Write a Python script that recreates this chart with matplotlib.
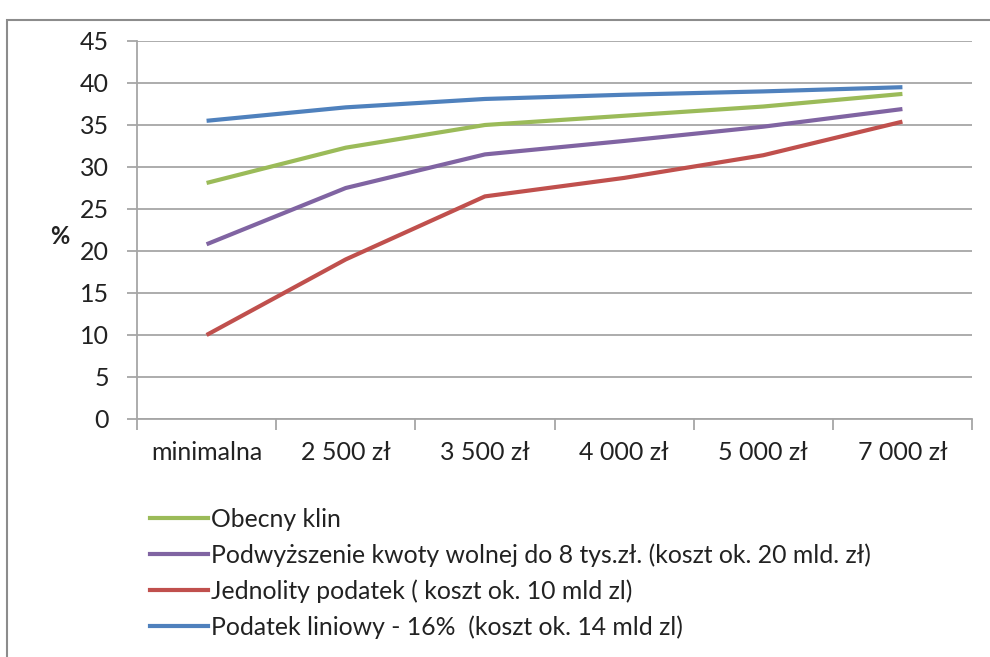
import matplotlib
matplotlib.use("Agg")
import matplotlib.pyplot as plt
from matplotlib.patches import Rectangle
from matplotlib.lines import Line2D

categories = ["minimalna", "2 500 zł", "3 500 zł", "4 000 zł", "5 000 zł", "7 000 zł"]
obecny_klin = [28.1, 32.3, 35.0, 36.1, 37.2, 38.7]
kwota_wolna = [20.8, 27.5, 31.5, 33.1, 34.8, 36.9]
jednolity = [10.0, 19.0, 26.5, 28.7, 31.4, 35.4]
liniowy = [35.5, 37.1, 38.1, 38.6, 39.0, 39.5]
y_ticks = [0, 5, 10, 15, 20, 25, 30, 35, 40, 45]

labels = [
    "Obecny klin",
    "Podwyższenie kwoty wolnej do 8 tys.zł. (koszt ok. 20 mld. zł)",
    "Jednolity podatek ( koszt ok. 10 mld zl)",
    "Podatek liniowy - 16%  (koszt ok. 14 mld zl)",
]
colors = ["#9BBB59", "#8064A2", "#C0504D", "#4F81BD"]
series = [obecny_klin, kwota_wolna, jednolity, liniowy]

plt.rcParams['font.family'] = ['Lato', 'DejaVu Sans']

W, H = 990, 657
fig = plt.figure(figsize=(W / 100, H / 100), dpi=100)
fig.patch.set_facecolor("white")

# outer chart frame
fig.patches.append(Rectangle((7 / W, -0.1), 1.2, (H - 20) / H + 0.1,
                             transform=fig.transFigure, fill=False,
                             edgecolor="#8C8C8C", linewidth=1.5))

ax = fig.add_axes([137 / W, 1 - 419 / H, (972 - 137) / W, (419 - 41) / H])
x = list(range(len(categories)))
for s, c in zip(series, colors):
    ax.plot(x, s, color=c, linewidth=3.0, solid_capstyle="butt", zorder=3)

ax.set_xlim(-0.5, len(categories) - 0.5)
ax.set_ylim(0, 45)
ax.set_yticks(y_ticks)
ax.set_yticklabels([str(v) for v in y_ticks], fontsize=18, color="#222222")
ax.yaxis.grid(True, color="#A6A6A6", linewidth=1.3)
ax.set_axisbelow(True)

ax.set_xticks(x)
ax.set_xticklabels(categories, fontsize=18, color="#222222")
ax.set_xticks([i - 0.5 for i in range(len(categories) + 1)], minor=True)
ax.tick_params(axis="x", which="major", length=0, pad=16)
ax.tick_params(axis="x", which="minor", length=8, width=1.3, color="#A6A6A6", direction="out")
ax.tick_params(axis="y", length=7, width=1.3, color="#A6A6A6", direction="out", pad=13)

for sp in ["top", "right"]:
    ax.spines[sp].set_visible(False)
ax.spines["left"].set_color("#A6A6A6")
ax.spines["bottom"].set_color("#A6A6A6")
ax.spines["left"].set_linewidth(1.3)
ax.spines["bottom"].set_linewidth(1.3)

fig.text(60 / W, 1 - 237 / H, "%", fontsize=17, fontweight="bold",
         ha="center", va="center", color="#222222")

# legend
handles = [Line2D([0], [0], color=c, linewidth=3) for c in colors]
leg = fig.legend(handles, labels, loc="upper left",
                 bbox_to_anchor=(150 / W, 1 - 508 / H), frameon=False,
                 fontsize=17.8, handlelength=2.35, handletextpad=0.1,
                 labelspacing=0.5, borderaxespad=0, borderpad=0)
for t in leg.get_texts():
    t.set_color("#222222")

fig.savefig("out.png", dpi=100)
